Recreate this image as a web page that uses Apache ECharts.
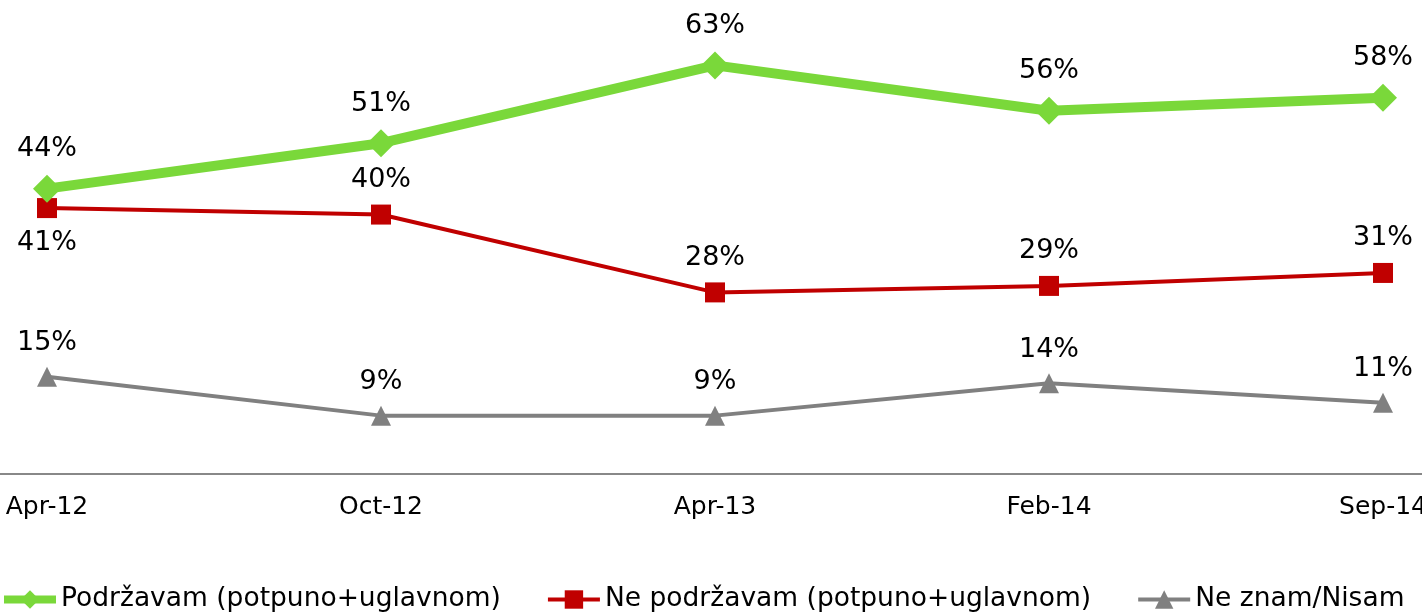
<!DOCTYPE html>
<html>
<head>
<meta charset="utf-8">
<script src="https://cdn.jsdelivr.net/npm/echarts@6/dist/echarts.min.js"></script>
<style>
  html, body { margin: 0; padding: 0; background: #fff; }
  #main { width: 1422px; height: 613px; }
</style>
</head>
<body>
<div id="main"></div>
<script>
var categories = ['Apr-12', 'Oct-12', 'Apr-13', 'Feb-14', 'Sep-14'];
var podrzavam = [44, 51, 63, 56, 58];
var nePodrzavam = [41, 40, 28, 29, 31];
var neZnam = [15, 9, 9, 14, 11];
// label sides for the red series (first one sits under the point)
var redLabelPos = ['bottom', 'top', 'top', 'top', 'top'];

var font = 'DejaVu Sans';
var green = '#7AD83A', red = '#C00000', gray = '#808080';
var chart = echarts.init(document.getElementById('main'));

var option = {
  animation: false,
  textStyle: { fontFamily: font },
  // plot is wider than the window: first/last bands are cut off like in the source
  grid: { left: -120, right: -128, top: 20, bottom: 139, outerBoundsMode: 'none', containLabel: false },
  legend: {
    left: 0,
    top: 586,
    padding: 0,
    itemWidth: 52,
    itemHeight: 23,
    itemGap: 45,
    textStyle: { fontFamily: font, fontSize: 26.5, color: '#000' },
    data: [
      { name: 'Podržavam (potpuno+uglavnom)', lineStyle: { width: 8 } },
      { name: 'Ne podržavam (potpuno+uglavnom)', lineStyle: { width: 4 } },
      { name: 'Ne znam/Nisam', lineStyle: { width: 4 } }
    ]
  },
  xAxis: {
    type: 'category',
    boundaryGap: true,
    data: categories,
    axisLine: { lineStyle: { color: '#888', width: 2 } },
    axisTick: { show: false },
    axisLabel: { fontFamily: font, fontSize: 25, color: '#000', margin: 21 }
  },
  yAxis: {
    type: 'value',
    min: 0,
    max: 70,
    show: false,
    splitLine: { show: false }
  },
  series: [
    {
      name: 'Podržavam (potpuno+uglavnom)',
      type: 'line',
      data: podrzavam,
      symbol: 'diamond',
      symbolSize: 28,
      color: green,
      lineStyle: { width: 10, color: green },
      label: {
        show: true, position: 'top', distance: 12,
        formatter: '{c}%', fontSize: 27, color: '#000', fontFamily: font
      },
      z: 3
    },
    {
      name: 'Ne podržavam (potpuno+uglavnom)',
      type: 'line',
      data: nePodrzavam.map(function (v, i) {
        return { value: v, label: { position: redLabelPos[i] } };
      }),
      symbol: 'rect',
      symbolSize: 20,
      color: red,
      lineStyle: { width: 4, color: red },
      label: {
        show: true, distance: 11,
        formatter: '{c}%', fontSize: 27, color: '#000', fontFamily: font
      },
      z: 2
    },
    {
      name: 'Ne znam/Nisam',
      type: 'line',
      data: neZnam,
      symbol: 'triangle',
      symbolSize: 20,
      color: gray,
      lineStyle: { width: 4, color: gray },
      label: {
        show: true, position: 'top', distance: 10,
        formatter: '{c}%', fontSize: 27, color: '#000', fontFamily: font
      },
      z: 2
    }
  ]
};
chart.setOption(option);
</script>
</body>
</html>
